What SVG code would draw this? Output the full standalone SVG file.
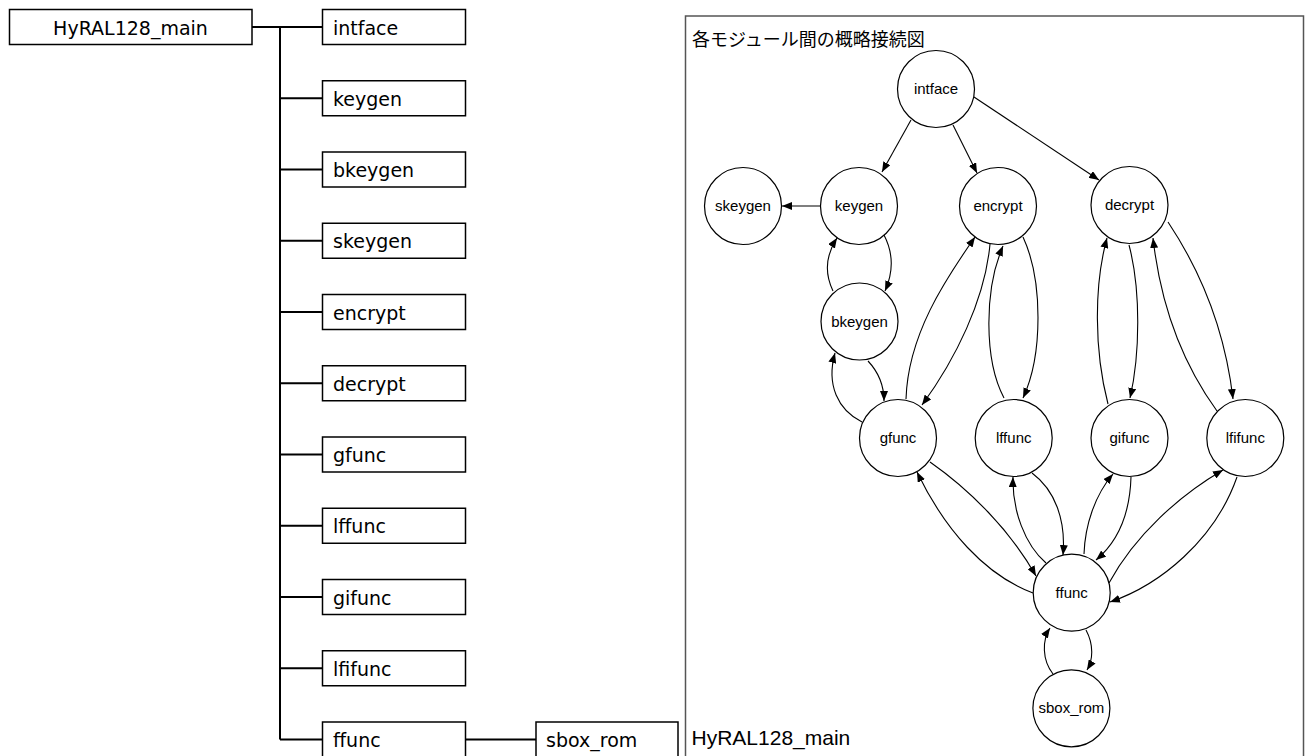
<svg xmlns="http://www.w3.org/2000/svg" width="1308" height="756" viewBox="0 0 1308 756">
<style>
.bg{fill:#fff}
.box{fill:#fff;stroke:#000;stroke-width:1.5}
.tl{fill:none;stroke:#000;stroke-width:2}
.tt{font-family:"DejaVu Sans","Liberation Sans",sans-serif;font-size:19px;fill:#000}
.frame{fill:none;stroke:#555;stroke-width:1.5}
.title{font-family:"Liberation Sans","Noto Sans CJK JP",sans-serif;font-size:18px;fill:#000}
.lbl{font-family:"Liberation Sans",Arial,sans-serif;font-size:21px;fill:#000}
.c{fill:#fff;stroke:#000;stroke-width:1.2}
.ct{font-family:"Liberation Sans",Arial,sans-serif;font-size:15px;fill:#000;text-anchor:middle}
.e{fill:none;stroke:#000;stroke-width:1.1;marker-end:url(#ah)}
</style>
<defs>
<marker id="ah" markerUnits="userSpaceOnUse" markerWidth="11" markerHeight="8" refX="10" refY="4" orient="auto">
<path d="M0,0 L10,4 L0,8 z" fill="#000"/>
</marker>
</defs>
<rect class="bg" x="0" y="0" width="1308" height="756"/>

<g id="tree-connectors">
<path class="tl" d="M252,27 H322.5 M280,27 V739.5 M280,98.25 H322.5 M280,169.5 H322.5 M280,240.75 H322.5 M280,312 H322.5 M280,383.25 H322.5 M280,454.5 H322.5 M280,525.75 H322.5 M280,597 H322.5 M280,668.25 H322.5 M280,739.5 H322.5 M465.5,739.5 H536"/>
</g>

<g id="t-main"><rect class="box" x="9.5" y="9.5" width="242.5" height="35"/><text class="tt" x="130.5" y="34.5" text-anchor="middle">HyRAL128_main</text></g>
<g id="t-intface"><rect class="box" x="322.5" y="9.5" width="143" height="35"/><text class="tt" x="333" y="34.5">intface</text></g>
<g id="t-keygen"><rect class="box" x="322.5" y="80.75" width="143" height="35"/><text class="tt" x="333" y="105.75">keygen</text></g>
<g id="t-bkeygen"><rect class="box" x="322.5" y="152" width="143" height="35"/><text class="tt" x="333" y="177">bkeygen</text></g>
<g id="t-skeygen"><rect class="box" x="322.5" y="223.25" width="143" height="35"/><text class="tt" x="333" y="248.25">skeygen</text></g>
<g id="t-encrypt"><rect class="box" x="322.5" y="294.5" width="143" height="35"/><text class="tt" x="333" y="319.5">encrypt</text></g>
<g id="t-decrypt"><rect class="box" x="322.5" y="365.75" width="143" height="35"/><text class="tt" x="333" y="390.75">decrypt</text></g>
<g id="t-gfunc"><rect class="box" x="322.5" y="437" width="143" height="35"/><text class="tt" x="333" y="462">gfunc</text></g>
<g id="t-lffunc"><rect class="box" x="322.5" y="508.25" width="143" height="35"/><text class="tt" x="333" y="533.25">lffunc</text></g>
<g id="t-gifunc"><rect class="box" x="322.5" y="579.5" width="143" height="35"/><text class="tt" x="333" y="604.5">gifunc</text></g>
<g id="t-lfifunc"><rect class="box" x="322.5" y="650.75" width="143" height="35"/><text class="tt" x="333" y="675.75">lfifunc</text></g>
<g id="t-ffunc"><rect class="box" x="322.5" y="722" width="143" height="35"/><text class="tt" x="333" y="747">ffunc</text></g>
<g id="t-sbox_rom"><rect class="box" x="536" y="722" width="142" height="35"/><text class="tt" x="546" y="747">sbox_rom</text></g>

<g id="frame">
<rect class="frame" x="685.5" y="16" width="618" height="760"/>
<text class="title" x="692" y="46">各モジュール間の概略接続図</text>
<text class="lbl" x="691.5" y="745">HyRAL128_main</text>
</g>

<g id="connectors">
<path class="e" d="M911,120 L882,172"/>
<path class="e" d="M953,125 L977,173"/>
<path class="e" d="M974,97 L1099,180"/>
<path class="e" d="M820,206 L782,206"/>
<path class="e" d="M884,235 Q898,262 885,291"/>
<path class="e" d="M833,291 Q820,264 837,238"/>
<path class="e" d="M868,361 Q884,378 884,401"/>
<path class="e" d="M862,422 C838,410 826,385 835,353"/>
<path class="e" d="M906,399 C908,335 945,280 975,237"/>
<path class="e" d="M990,244 C985,300 955,360 922,405"/>
<path class="e" d="M1004,398 C984,360 984,290 1003,246"/>
<path class="e" d="M1023,237 C1043,280 1043,355 1023,398"/>
<path class="e" d="M1108,404 C1094,350 1094,285 1107,238"/>
<path class="e" d="M1129,245 C1141,290 1140,355 1130,398"/>
<path class="e" d="M1217,411 C1180,360 1160,300 1153,238"/>
<path class="e" d="M1168,222 C1200,270 1225,330 1233,399"/>
<path class="e" d="M930,462 C970,490 1010,530 1036,576"/>
<path class="e" d="M1033,593 C985,575 945,530 917,472"/>
<path class="e" d="M1046,563 C1025,545 1012,510 1013,477"/>
<path class="e" d="M1032,473 C1055,490 1066,520 1063,555"/>
<path class="e" d="M1084,554 C1085,525 1095,495 1113,474"/>
<path class="e" d="M1131,477 C1130,510 1120,540 1096,560"/>
<path class="e" d="M1109,583 C1135,535 1180,495 1223,470"/>
<path class="e" d="M1237,477 C1215,540 1160,585 1110,602"/>
<path class="e" d="M1086,630 C1094,645 1093,660 1087,670"/>
<path class="e" d="M1053,674 C1042,660 1042,640 1050,628"/>
</g>

<g id="n-intface"><circle class="c" cx="936" cy="89" r="38.5"/><text class="ct" x="936" y="94">intface</text></g>
<g id="n-skeygen"><circle class="c" cx="743" cy="206" r="38.5"/><text class="ct" x="743" y="211">skeygen</text></g>
<g id="n-keygen"><circle class="c" cx="859" cy="206" r="38.5"/><text class="ct" x="859" y="211">keygen</text></g>
<g id="n-encrypt"><circle class="c" cx="998" cy="206" r="38.5"/><text class="ct" x="998" y="211">encrypt</text></g>
<g id="n-decrypt"><circle class="c" cx="1129.5" cy="205" r="38.5"/><text class="ct" x="1129.5" y="210">decrypt</text></g>
<g id="n-bkeygen"><circle class="c" cx="859.5" cy="321.5" r="38.5"/><text class="ct" x="859.5" y="326.5">bkeygen</text></g>
<g id="n-gfunc"><circle class="c" cx="898" cy="438" r="38.5"/><text class="ct" x="898" y="443">gfunc</text></g>
<g id="n-lffunc"><circle class="c" cx="1013.7" cy="438" r="38.5"/><text class="ct" x="1013.7" y="443">lffunc</text></g>
<g id="n-gifunc"><circle class="c" cx="1129.5" cy="438" r="38.5"/><text class="ct" x="1129.5" y="443">gifunc</text></g>
<g id="n-lfifunc"><circle class="c" cx="1245.3" cy="438" r="38.5"/><text class="ct" x="1245.3" y="443">lfifunc</text></g>
<g id="n-ffunc"><circle class="c" cx="1071.7" cy="592.7" r="38.5"/><text class="ct" x="1071.7" y="597.7">ffunc</text></g>
<g id="n-sbox_rom"><circle class="c" cx="1071.4" cy="708.3" r="38.5"/><text class="ct" x="1071.4" y="713.3">sbox_rom</text></g>
</svg>
